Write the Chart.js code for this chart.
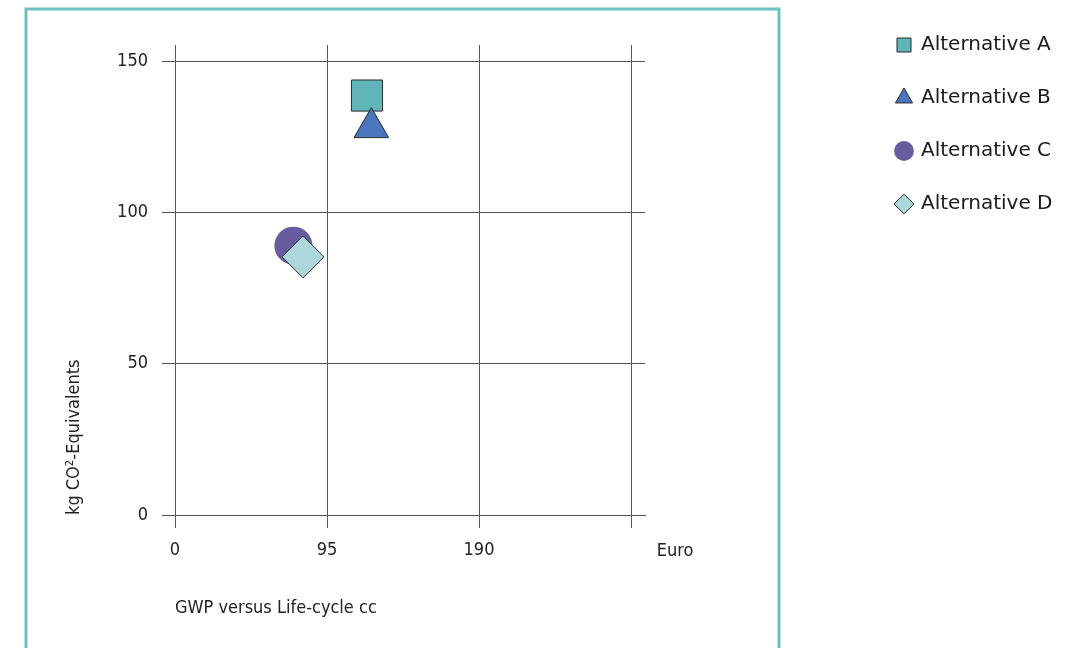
<!DOCTYPE html>
<html>
<head>
<meta charset="utf-8">
<script src="https://cdn.jsdelivr.net/npm/chart.js@4/dist/chart.umd.min.js"></script>
<style>
  html, body { margin: 0; padding: 0; background: #ffffff; }
  canvas { display: block; }
</style>
</head>
<body>
<canvas id="chart" width="1079" height="648"></canvas>
<script>
// ---- data ----
const seriesNames = ['Alternative A', 'Alternative B', 'Alternative C', 'Alternative D'];
const lifeCycleCost = [120, 122.7, 74, 80];      // Euro
const gwpValues = [138.6, 128, 89, 85.3];         // kg CO2-equivalents
const xTickValues = [0, 95, 190, 285];
const xTickLabels = ['0', '95', '190', ''];
const yTickValues = [0, 50, 100, 150];
const yTickLabels = ['0', '50', '100', '150'];
const xTitle = 'GWP versus Life-cycle cc';
const yTitle = 'kg CO\u00B2-Equivalents';
const xUnit = 'Euro';

// ---- styling ----
const condensed = "'DejaVu Sans Condensed', 'Liberation Sans Narrow', 'Roboto', sans-serif";
const legendFamily = "'DejaVu Sans', 'Noto Sans', sans-serif";
const axisFontSize = 18;
const textColor = '#222222';
const gridColor = '#555555';
const frameColor = '#6cc0c3';
const markerStyles = [
  { pointStyle: 'rect',     radius: 22, fill: '#5fb5b8', stroke: '#2a2a2a', width: 1, order: 4 },
  { pointStyle: 'triangle', radius: 20, fill: '#4a76be', stroke: '#2a2a2a', width: 1, order: 3 },
  { pointStyle: 'circle',   radius: 19, fill: '#665c9f', stroke: '#665c9f', width: 0, order: 2 },
  { pointStyle: 'rectRot',  radius: 21, fill: '#add8db', stroke: '#2a2a2a', width: 1, order: 1 }
];

// legend geometry
const legendFontSize = 20;
const legendBox = 14;
const legendGap = 33;
const legendMarkerLeft = 897;
const plotLeft = 175, plotRight = 645, plotTop = 45, plotBottom = 515;

// measure the longest legend label so the legend column lands where wanted
// (Chart.js adds 10px to the width of a vertical legend)
const measureCtx = document.createElement('canvas').getContext('2d');
measureCtx.font = legendFontSize + 'px ' + legendFamily;
const maxLabelWidth = Math.max(...seriesNames.map(n => measureCtx.measureText(n).width));
const legendLeft = legendMarkerLeft - legendGap;
const legendWidth = legendGap + legendBox + legendFontSize / 2 + maxLabelWidth + 10;
const rightPad = Math.max(0, 1079 - legendLeft - legendWidth);

const datasets = seriesNames.map((name, i) => ({
  label: name,
  data: [{ x: lifeCycleCost[i], y: gwpValues[i] }],
  pointStyle: markerStyles[i].pointStyle,
  pointRadius: markerStyles[i].radius,
  pointHoverRadius: markerStyles[i].radius,
  backgroundColor: markerStyles[i].fill,
  borderColor: markerStyles[i].stroke,
  borderWidth: markerStyles[i].width,
  order: markerStyles[i].order
}));

// open teal frame (left, top and right sides) and the unit label beside the x axis
const framePlugin = {
  id: 'frame',
  beforeDraw(chart) {
    const ctx = chart.ctx;
    ctx.save();
    ctx.fillStyle = '#ffffff';
    ctx.fillRect(0, 0, chart.width, chart.height);
    ctx.strokeStyle = frameColor;
    ctx.lineWidth = 3;
    ctx.beginPath();
    ctx.moveTo(26, chart.height + 5);
    ctx.lineTo(26, 9);
    ctx.lineTo(779, 9);
    ctx.lineTo(779, chart.height + 5);
    ctx.stroke();
    ctx.restore();
  },
  afterDraw(chart) {
    const ctx = chart.ctx;
    const xs = chart.scales.x;
    ctx.save();
    ctx.font = axisFontSize + 'px ' + condensed;
    ctx.fillStyle = textColor;
    ctx.textAlign = 'center';
    ctx.textBaseline = 'middle';
    ctx.fillText(xUnit, xs.right + 30, xs.top + 36);
    ctx.restore();
  }
};

const spacer = (position, size) => ({
  type: 'linear',
  position: position,
  display: true,
  grid: { display: false, drawTicks: false },
  border: { display: false },
  ticks: { display: false },
  afterFit(scale) {
    if (position === 'top') scale.height = size; else scale.width = size;
  }
});

new Chart(document.getElementById('chart'), {
  type: 'scatter',
  data: { datasets: datasets },
  options: {
    responsive: false,
    animation: false,
    devicePixelRatio: 1,
    layout: { padding: { left: 0, top: 2, right: rightPad, bottom: 0 } },
    plugins: {
      tooltip: { enabled: false },
      legend: {
        position: 'right',
        align: 'start',
        maxWidth: 400,
        labels: {
          usePointStyle: true,
          boxWidth: legendBox,
          boxHeight: legendBox,
          padding: legendGap,
          color: '#1a1a1a',
          font: { family: legendFamily, size: legendFontSize },
          sort: (a, b) => a.datasetIndex - b.datasetIndex
        }
      }
    },
    scales: {
      x: {
        type: 'linear',
        min: 0,
        max: 293.75,
        afterBuildTicks(scale) { scale.ticks = xTickValues.map(v => ({ value: v })); },
        afterFit(scale) { scale.height = 648 - plotBottom; },
        ticks: {
          padding: 12,
          color: textColor,
          font: { family: condensed, size: axisFontSize },
          callback: (value) => xTickLabels[xTickValues.indexOf(value)] ?? ''
        },
        grid: { color: gridColor, lineWidth: 1, tickLength: 13, tickColor: gridColor },
        border: { display: true, color: gridColor },
        title: {
          display: true,
          text: xTitle,
          align: 'start',
          color: textColor,
          font: { family: condensed, size: axisFontSize },
          padding: { top: 0, bottom: 29 }
        }
      },
      y: {
        type: 'linear',
        min: 0,
        max: 155.3,
        afterBuildTicks(scale) { scale.ticks = yTickValues.map(v => ({ value: v })); },
        afterFit(scale) { scale.width = plotLeft; },
        ticks: {
          padding: 14,
          color: textColor,
          font: { family: condensed, size: axisFontSize },
          callback: (value) => yTickLabels[yTickValues.indexOf(value)] ?? ''
        },
        grid: { color: gridColor, lineWidth: 1, tickLength: 13, tickColor: gridColor },
        border: { display: true, color: gridColor },
        title: {
          display: true,
          text: yTitle,
          align: 'start',
          color: textColor,
          font: { family: condensed, size: axisFontSize },
          padding: { top: 64, bottom: 0 }
        }
      },
      topSpace: spacer('top', plotTop - 2),
      rightSpace: spacer('right', legendLeft - plotRight)
    }
  },
  plugins: [framePlugin]
});
</script>
</body>
</html>
